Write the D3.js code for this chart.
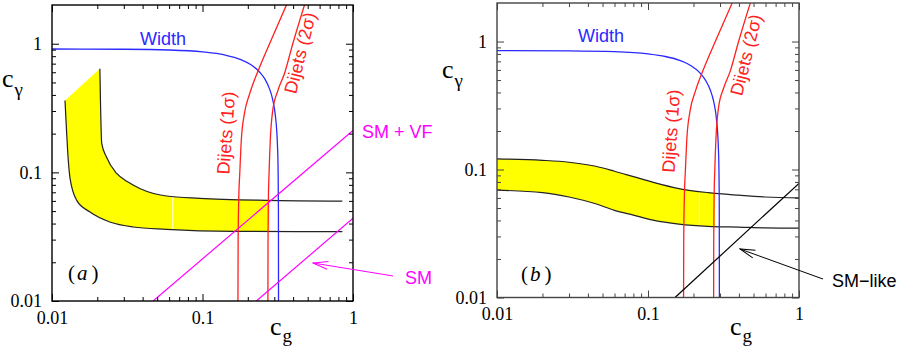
<!DOCTYPE html>
<html>
<head>
<meta charset="utf-8">
<script src="https://cdn.jsdelivr.net/npm/d3@7"></script>
<style>
  body { margin: 0; background: #fff; }
  svg { display: block; }
</style>
</head>
<body>
<svg id="chart" width="900" height="349"></svg>
<script>
// axis ticks
const tickVals = [0.01, 0.1, 1];
const tickLabels = ["0.01", "0.1", "1"];

// dijet bounds, [c_g, c_gamma] (same in both panels)
const dijet1 = [[0.172, 0.01], [0.1725, 0.03], [0.174, 0.06], [0.177, 0.1], [0.181, 0.177], [0.19, 0.287],
                [0.206, 0.41], [0.236, 0.63], [0.279, 1.0], [0.361, 2.0]];
const dijet2 = [[0.272, 0.01], [0.2725, 0.03], [0.274, 0.06], [0.277, 0.1], [0.282, 0.177], [0.293, 0.304],
                [0.317, 0.433], [0.351, 0.59], [0.398, 1.0], [0.476, 2.0]];

// panel (a)
const widthA = [[0.01, 0.91], [0.03, 0.906], [0.06, 0.894], [0.1, 0.864], [0.14, 0.818], [0.18, 0.752],
                [0.21, 0.687], [0.24, 0.60], [0.26, 0.53], [0.28, 0.44], [0.29, 0.385], [0.30, 0.317],
                [0.305, 0.275], [0.31, 0.226], [0.315, 0.16], [0.318, 0.102], [0.3195, 0.051], [0.32, 0.0099]];
const upperA = [[0.0208, 0.64], [0.021, 0.35], [0.0214, 0.168], [0.023, 0.1315], [0.0269, 0.098], [0.032, 0.084],
                [0.0383, 0.075], [0.0576, 0.0655], [0.0958, 0.0628], [0.265, 0.0606], [0.85, 0.0598]];
const lowerA = [[0.0122, 0.362], [0.01252, 0.2], [0.01283, 0.124], [0.0132, 0.089], [0.0146, 0.0606],
                [0.0179, 0.0491], [0.0242, 0.0411], [0.0346, 0.0376], [0.0576, 0.0361], [0.159, 0.0348], [0.85, 0.0346]];
const smVfA = [[0.047, 0.01], [1, 0.212]];
const smA = [[0.228, 0.01], [1, 0.044]];

// panel (b)
const widthB = [[0.01, 0.85], [0.03, 0.846], [0.06, 0.833], [0.1, 0.80], [0.13, 0.764], [0.16, 0.716],
                [0.19, 0.653], [0.22, 0.571], [0.24, 0.50], [0.26, 0.411], [0.27, 0.354], [0.28, 0.284],
                [0.285, 0.239], [0.29, 0.184], [0.293, 0.139], [0.295, 0.099], [0.296, 0.07], [0.2965, 0.049], [0.297, 0.0099]];
const upperB = [[0.01, 0.121], [0.02, 0.118], [0.03, 0.114], [0.045, 0.106], [0.06, 0.097], [0.08, 0.088],
                [0.11, 0.079], [0.16, 0.071], [0.25, 0.066], [0.4, 0.063], [0.6, 0.061], [1, 0.060]];
const lowerB = [[0.01, 0.069], [0.02, 0.066], [0.03, 0.061], [0.045, 0.054], [0.06, 0.048], [0.08, 0.044],
                [0.11, 0.040], [0.16, 0.0375], [0.25, 0.036], [0.4, 0.0355], [0.6, 0.035], [1, 0.0348]];
const smLikeB = [[0.151, 0.01], [1, 0.078]];

var svg = d3.select("#chart");
var sans = "'Liberation Sans', Arial, sans-serif",
    serif = "'Liberation Serif', 'Times New Roman', serif";

var defs = svg.append("defs");
function arrowMarker(id, color) {
    defs.append("marker")
        .attr("id", id)
        .attr("viewBox", "-1 -6 17 12")
        .attr("refX", 0).attr("refY", 0)
        .attr("markerWidth", 17).attr("markerHeight", 12)
        .attr("markerUnits", "userSpaceOnUse")
        .attr("orient", "auto")
        .append("path")
        .attr("d", "M15,-4L0,0L15,4")
        .attr("fill", "none")
        .attr("stroke", color)
        .attr("stroke-width", 1);
}
arrowMarker("arrM", "#ff00ff");
arrowMarker("arrK", "#000");

function drawPanel(p) {
    var W = p.right - p.left, H = p.bottom - p.top;
    var x = d3.scaleLog().domain([0.01, 1]).range([0, W]);
    var y = d3.scaleLog().domain([0.01, 2]).range([H, 0]);
    var g = svg.append("g").attr("transform", "translate(" + p.left + "," + p.top + ")");

    defs.append("clipPath").attr("id", "clip-" + p.id)
        .append("rect").attr("width", W).attr("height", H);
    defs.append("clipPath").attr("id", "yclip-" + p.id)
        .append("rect").attr("width", x(p.yellowTo)).attr("height", H);

    var line = d3.line()
        .x(function (d) { return x(d[0]); })
        .y(function (d) { return y(d[1]); })
        .curve(d3.curveMonotoneX);

    var plot = g.append("g").attr("clip-path", "url(#clip-" + p.id + ")");

    // yellow band
    var bandPath = line(p.lower) + line(p.upper.slice().reverse()).replace(/^M/, "L") + "Z";
    defs.append("clipPath").attr("id", "bclip-" + p.id).append("path").attr("d", bandPath);
    var band = plot.append("g").attr("clip-path", "url(#yclip-" + p.id + ")");
    band.append("path").attr("d", bandPath).attr("fill", "#ffff00").attr("stroke", "none");
    band.append("g").attr("clip-path", "url(#bclip-" + p.id + ")")
        .append("line")
        .attr("x1", x(p.seam)).attr("x2", x(p.seam))
        .attr("y1", 0).attr("y2", H)
        .attr("stroke", "#fff").attr("stroke-width", 1);

    plot.selectAll(".bound").data([p.upper, p.lower]).enter().append("path")
        .attr("d", line).attr("fill", "none").attr("stroke", "#222").attr("stroke-width", 1.2);

    plot.append("path").datum(p.width).attr("d", line)
        .attr("fill", "none").attr("stroke", "#2a2aff").attr("stroke-width", 1.3);
    plot.selectAll(".dijet").data([dijet1, dijet2]).enter().append("path")
        .attr("d", line).attr("fill", "none").attr("stroke", "#ff2020").attr("stroke-width", 1.3);

    p.diag.forEach(function (dl) {
        plot.append("path").datum(dl).attr("d", d3.line().x(function (d) { return x(d[0]); }).y(function (d) { return y(d[1]); }))
            .attr("fill", "none").attr("stroke", p.diagColor).attr("stroke-width", 1.2);
    });

    // axes: ticks on all four sides, pointing in
    var minorX = x.ticks().filter(function (v) { return Math.abs(Math.log10(v) - Math.round(Math.log10(v))) > 1e-6; });
    var minorY = y.ticks().filter(function (v) { return Math.abs(Math.log10(v) - Math.round(Math.log10(v))) > 1e-6 && v < 1.99; });
    var fmt = function (d, i) { return tickLabels[i]; };

    g.append("g").attr("transform", "translate(0," + H + ")")
        .call(d3.axisBottom(x).tickValues(tickVals).tickFormat(fmt).tickSize(-7).tickPadding(10));
    g.append("g").attr("transform", "translate(0," + H + ")")
        .call(d3.axisBottom(x).tickValues(minorX).tickFormat("").tickSize(-4));
    g.append("g").call(d3.axisTop(x).tickValues(tickVals).tickFormat("").tickSize(-7));
    g.append("g").call(d3.axisTop(x).tickValues(minorX).tickFormat("").tickSize(-4));
    g.append("g")
        .call(d3.axisLeft(y).tickValues(tickVals).tickFormat(fmt).tickSize(-7).tickPadding(10));
    g.append("g").call(d3.axisLeft(y).tickValues(minorY).tickFormat("").tickSize(-4));
    g.append("g").attr("transform", "translate(" + W + ",0)")
        .call(d3.axisRight(y).tickValues(tickVals).tickFormat("").tickSize(-7));
    g.append("g").attr("transform", "translate(" + W + ",0)")
        .call(d3.axisRight(y).tickValues(minorY).tickFormat("").tickSize(-4));

    g.selectAll(".domain").remove();
    g.selectAll(".tick line").attr("stroke", p.frame).attr("stroke-width", 1);
    g.selectAll(".tick text").attr("font-family", serif).attr("font-size", 18).attr("fill", "#000");

    g.append("rect").attr("width", W).attr("height", H)
        .attr("fill", "none").attr("stroke", p.frame).attr("stroke-width", 1.4);

    // axis titles
    var ty = svg.append("text").attr("font-family", serif).attr("fill", "#000")
        .attr("x", p.left + p.ytitle[0]).attr("y", p.top + p.ytitle[1]);
    ty.append("tspan").attr("font-size", 26).text("c");
    ty.append("tspan").attr("font-size", 19).attr("dx", 1).attr("dy", 9).text("γ");
    var tx = svg.append("text").attr("font-family", serif).attr("fill", "#000")
        .attr("x", p.left + p.xtitle[0]).attr("y", p.bottom + p.xtitle[1]);
    tx.append("tspan").attr("font-size", 26).text("c");
    tx.append("tspan").attr("font-size", 19).attr("dx", 1).attr("dy", 7).text("g");

    // annotations (positioned in data coordinates)
    function label(t, at, color, rot) {
        var el = g.append("text").attr("font-family", sans).attr("font-size", 18).attr("fill", color).text(t);
        if (rot) {
            el.attr("text-anchor", "middle").attr("dy", "0.35em")
              .attr("transform", "translate(" + x(at[0]) + "," + y(at[1]) + ") rotate(" + rot + ")");
        } else {
            el.attr("x", x(at[0])).attr("y", y(at[1]));
        }
        return el;
    }
    label("Width", p.widthLabel, "#2a2aff");
    label("Dijets (1σ)", p.d1Label, "#ff2020", p.d1Rot);
    label("Dijets (2σ)", p.d2Label, "#ff2020", p.d2Rot);
    p.labels.forEach(function (l) { label(l.text, l.at, l.color); });
    p.arrows.forEach(function (a) {
        g.append("line")
            .attr("x1", x(a.tip[0])).attr("y1", y(a.tip[1]))
            .attr("x2", x(a.tail[0])).attr("y2", y(a.tail[1]))
            .attr("stroke", a.color).attr("stroke-width", 1)
            .attr("marker-start", "url(#" + a.marker + ")");
    });

    var tag = g.append("text").attr("font-family", serif).attr("font-size", 21).attr("fill", "#000")
        .attr("x", x(p.tagAt[0])).attr("y", y(p.tagAt[1]));
    tag.append("tspan").text("(");
    tag.append("tspan").attr("font-style", "italic").attr("dx", 2).text(p.id);
    tag.append("tspan").attr("dx", 4).text(")");
}

drawPanel({
    id: "a", left: 52, right: 353, top: 5, bottom: 301, frame: "#000",
    width: widthA, upper: upperA, lower: lowerA, yellowTo: 0.279, seam: 0.0635,
    diag: [smVfA, smA], diagColor: "#ff00ff",
    widthLabel: [0.0384, 0.979],
    d1Label: [0.1432, 0.2025], d1Rot: -86,
    d2Label: [0.4446, 0.848], d2Rot: -76,
    labels: [{ text: "SM + VF", at: [1.148, 0.185], color: "#ff00ff" },
             { text: "SM", at: [2.216, 0.01356], color: "#ff00ff" }],
    arrows: [{ tip: [0.542, 0.01975], tail: [1.845, 0.01565], color: "#ff00ff", marker: "arrM" }],
    tagAt: [0.01277, 0.01457],
    ytitle: [-50, 82], xtitle: [218, 34]
});

drawPanel({
    id: "b", left: 497, right: 799, top: 3, bottom: 297.5, frame: "#444",
    width: widthB, upper: upperB, lower: lowerB, yellowTo: 0.278, seam: 0.219,
    diag: [smLikeB], diagColor: "#000",
    widthLabel: [0.0344, 0.991],
    d1Label: [0.142, 0.2], d1Rot: -86,
    d2Label: [0.4457, 0.7845], d2Rot: -76,
    labels: [{ text: "SM\u2212like", at: [1.654, 0.01208], color: "#000" }],
    arrows: [{ tip: [0.4066, 0.02393], tail: [1.442, 0.01394], color: "#000", marker: "arrK" }],
    tagAt: [0.01442, 0.01346],
    ytitle: [-55, 75], xtitle: [233, 37.5]
});
</script>
</body>
</html>
